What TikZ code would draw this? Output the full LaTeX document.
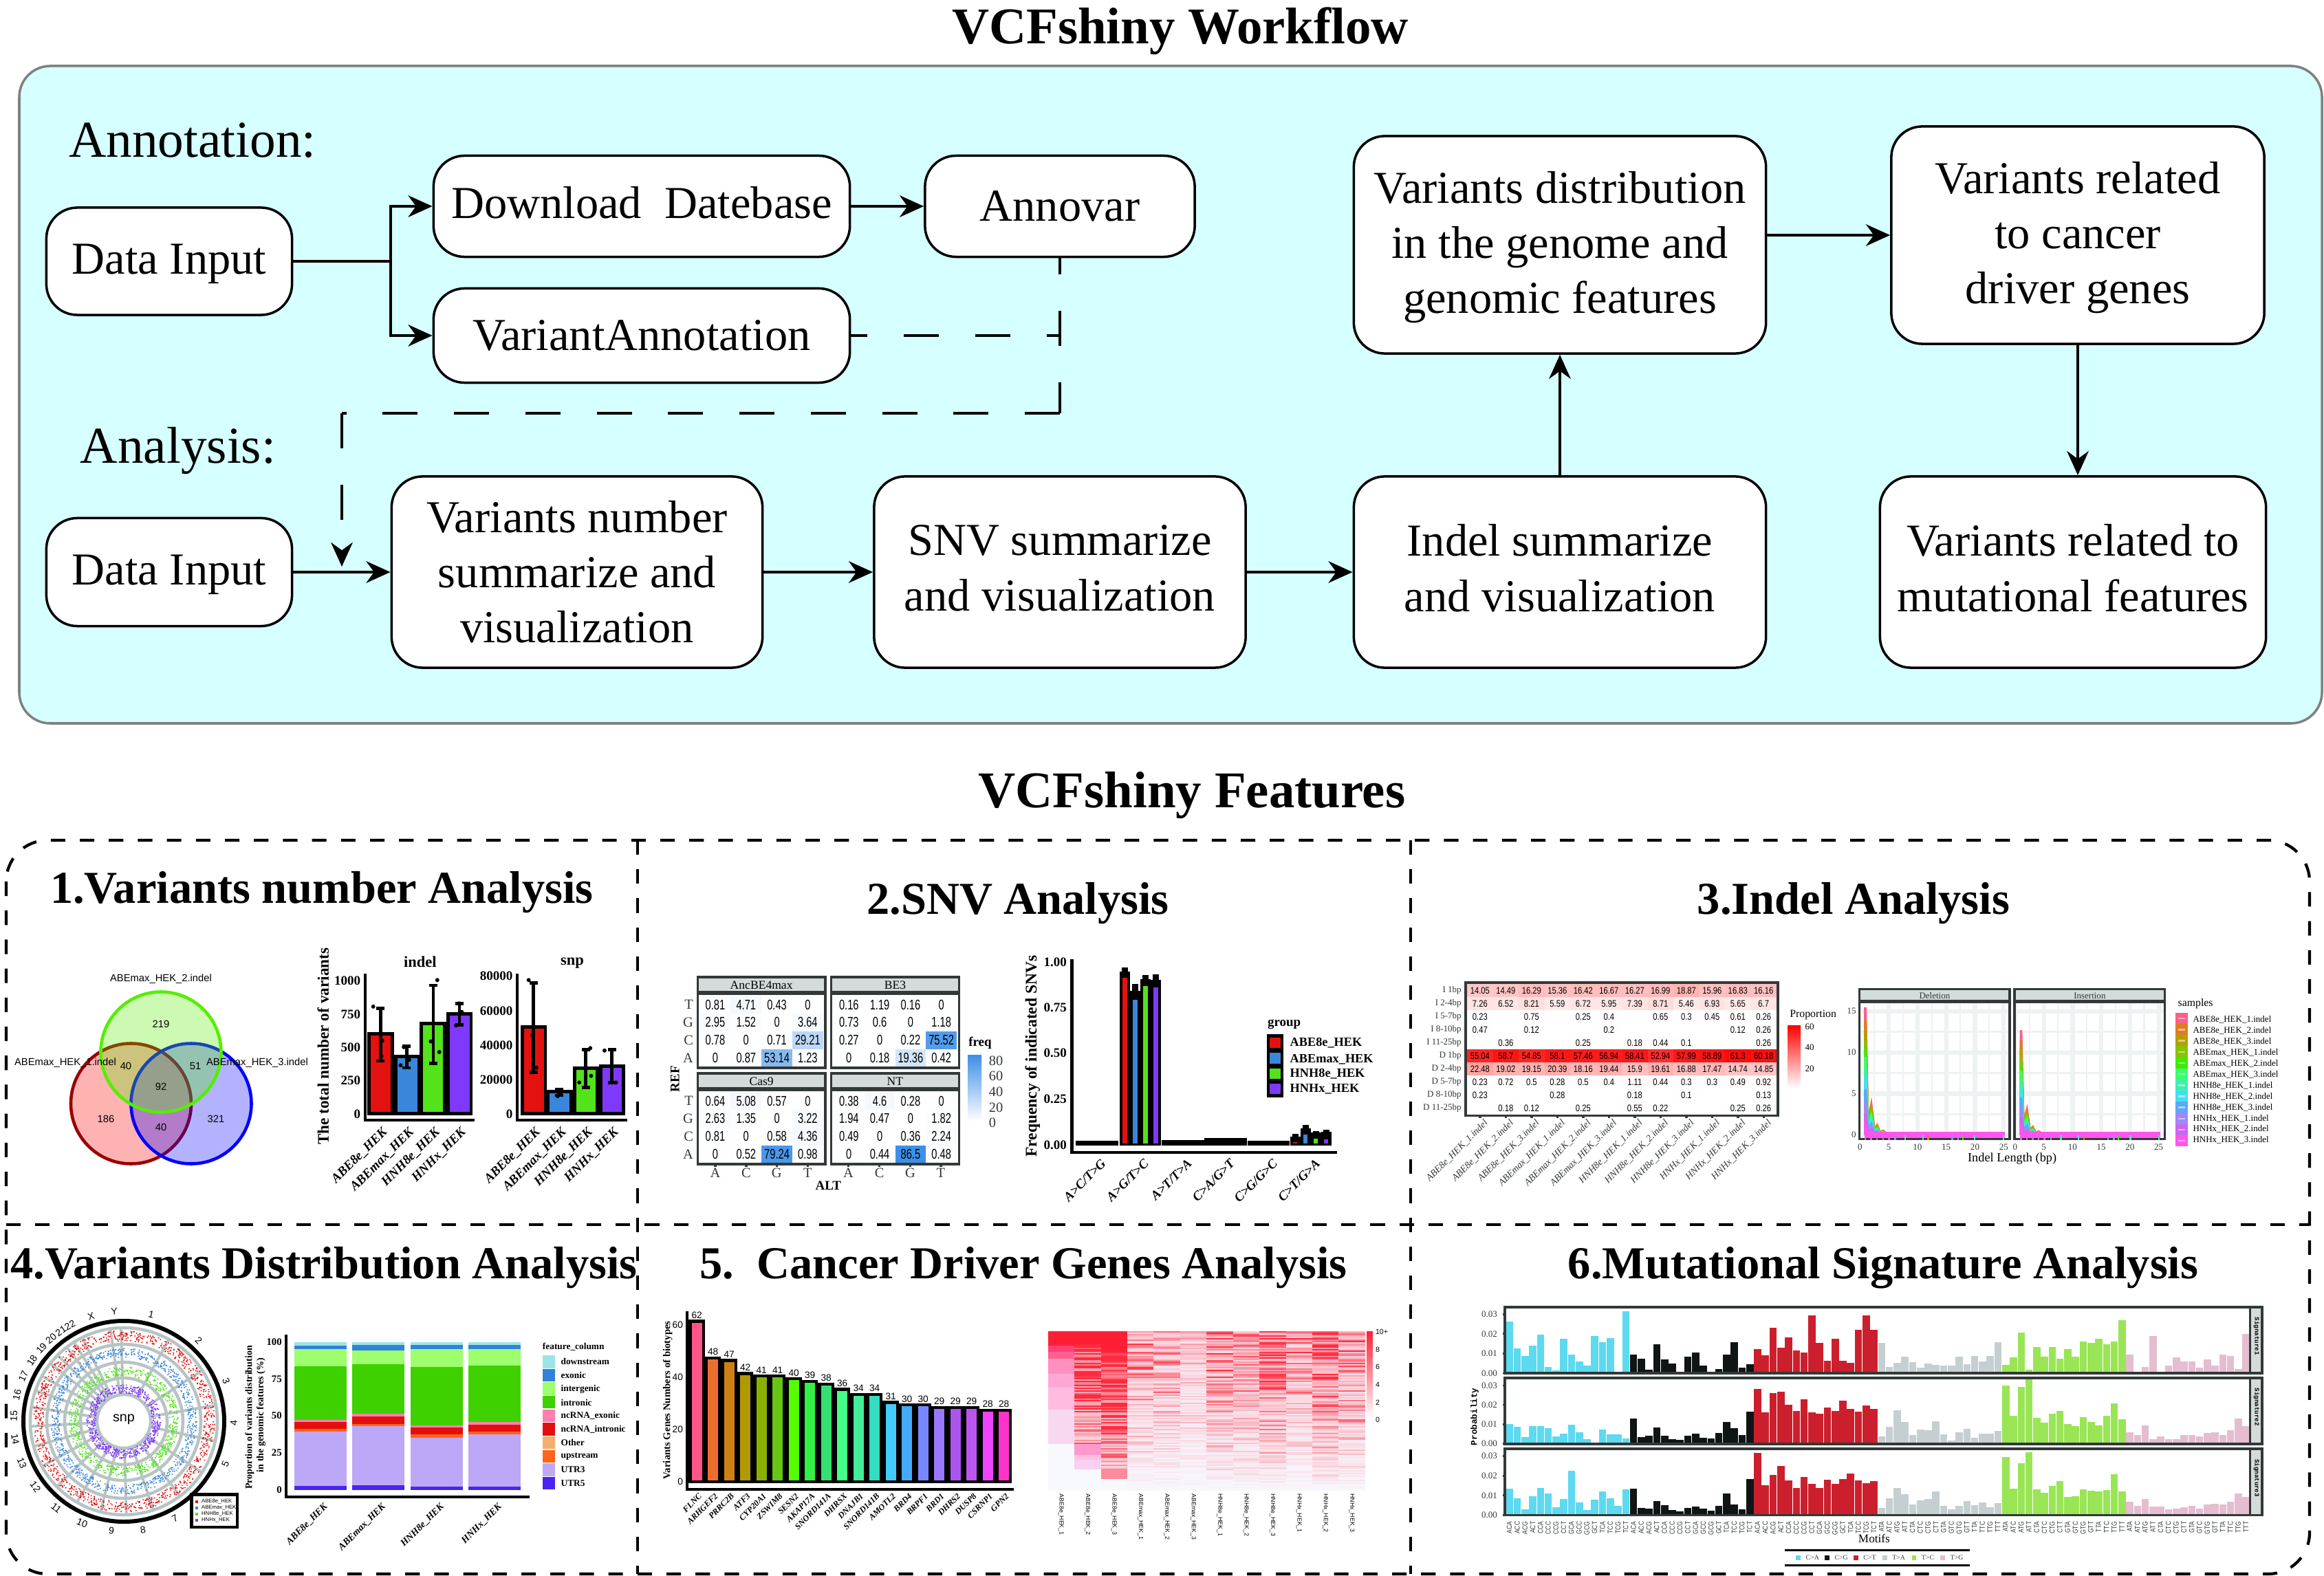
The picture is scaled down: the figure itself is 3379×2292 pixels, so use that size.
\documentclass[tikz,border=0pt]{standalone}
\usepackage{fontspec}
\setmainfont{Liberation Serif}
\newfontfamily\sansfam{Liberation Sans}
\newfontfamily\monofam{Liberation Mono}
\usetikzlibrary{arrows.meta,positioning,calc}
\newcommand{\fsz}[2]{\fontsize{#1}{#2}\selectfont}
\newcommand{\errbar}[3]{\draw[line width=1.3pt] (#1-10,#2) -- (#1+10,#2) (#1,#2) -- (#1,#3) (#1-10,#3) -- (#1+10,#3);}
\newcommand{\datadot}[2]{\fill (#1,#2) ellipse [x radius=5,y radius=8.4];}
\newcommand{\lowpad}{\rule[-3.4pt]{0pt}{0pt}}
\newcommand{\toppad}{\rule{0pt}{15pt}}
\definecolor{panelcyan}{HTML}{D6FFFF}
\definecolor{vennlime}{HTML}{55EE00}
\definecolor{barred}{HTML}{E3110F}
\definecolor{barblue}{HTML}{3A86DB}
\definecolor{bargreen}{HTML}{52E31A}
\definecolor{barpurple}{HTML}{7F39FB}
\definecolor{cellblue}{HTML}{3F8FE8}
\definecolor{stripgray}{HTML}{D3DCDA}
\definecolor{framedark}{HTML}{333838}
\definecolor{gridgray}{HTML}{EEF2F2}
\definecolor{ringgray}{HTML}{B8C4C4}
\definecolor{heatlow}{HTML}{F8F8FF}
\definecolor{heathigh}{HTML}{FF1F35}
\definecolor{stk1}{HTML}{9BE5E8}
\definecolor{stk2}{HTML}{3182D8}
\definecolor{stk3}{HTML}{9DFF6E}
\definecolor{stk4}{HTML}{3FD000}
\definecolor{stk5}{HTML}{FF80B0}
\definecolor{stk6}{HTML}{E30F0F}
\definecolor{stk7}{HTML}{FF6418}
\definecolor{stk8}{HTML}{BDA8F8}
\definecolor{stk9}{HTML}{4A25F0}
\definecolor{stkother}{HTML}{F8AE6C}
\definecolor{sig0}{HTML}{5DD9F0}
\definecolor{sig1}{HTML}{0F1414}
\definecolor{sig2}{HTML}{CC1F2E}
\definecolor{sig3}{HTML}{C5CFD2}
\definecolor{sig4}{HTML}{99E555}
\definecolor{sig5}{HTML}{E5BDD0}
\tikzset{
  flowbox/.style={draw,fill=white,rounded corners=.45cm,line width=1pt,align=center,inner sep=0pt,font=\fsz{18.9}{22.8}},
  dashflow/.style={line width=1pt,dash pattern=on 14.5pt off 15pt},
  sectitle/.style={anchor=base,inner sep=0pt,font=\bfseries\fsz{18.9}{20}},
  zoneA/.style={shift={(0,1220)},xscale=.5931,yscale=.3571},
  zoneB/.style={shift={(930,1220)},xscale=.7143,yscale=.3571},
  zoneC/.style={shift={(2040,1220)},xscale=.854,yscale=.3571},
  zoneD/.style={shift={(0,1770)},xscale=.5931,yscale=.3329},
  zoneE/.style={shift={(930,1770)},xscale=.7143,yscale=.3329},
  zoneF/.style={shift={(2040,1770)},xscale=.854,yscale=.3329},
  vennlab/.style={inner sep=0pt,font=\sansfam\fsz{4.2}{5}},
  boldlab/.style={inner sep=0pt,font=\bfseries\fsz{5.4}{6}},
  rotlab/.style={inner sep=0pt,rotate=45,anchor=east,font=\bfseries\itshape\fsz{5.4}{6}},
  cellnum/.style={inner sep=0pt,font=\sansfam\fsz{5.8}{6}},
  serifgray/.style={inner sep=0pt,text=framedark,font=\fsz{5.8}{6}},
  smallnum/.style={inner sep=0pt,font=\sansfam\fsz{3.9}{4}},
  smalllab/.style={inner sep=0pt,font=\fsz{3.7}{4}},
  smallbold/.style={inner sep=0pt,font=\bfseries\fsz{3.8}{4}},
  axisline/.style={line width=1.2pt}
}
\begin{document}
\begin{tikzpicture}[x=0.01cm,y=-0.01cm,>={Stealth[length=10pt,width=9pt]}]
\useasboundingbox (0,0) rectangle (3379,2292);
\node (workflowtitle) [anchor=base,inner sep=0pt,font=\bfseries\fsz{21.3}{22}] at (1716,64) {VCFshiny Workflow};
\filldraw[draw=gray,fill=panelcyan,rounded corners=.45cm,line width=1pt] (28,96) rectangle (3376,1052);
\node (annotlab) [inner sep=0pt,font=\fsz{21.4}{22}] at (280,204) {Annotation:};
\node (analysislab) [inner sep=0pt,font=\fsz{21.4}{22}] at (259,656) {Analysis:};
\node (input1) [flowbox,text depth=1.6pt,minimum width=3.57cm,minimum height=1.56cm] at (246,380) {Data Input};
\node (download) [flowbox,text depth=3.4pt,minimum width=6.05cm,minimum height=1.47cm] at (933,300) {Download\ \ Datebase};
\node (varannot) [flowbox,minimum width=6.05cm,minimum height=1.37cm] at (933,488) {VariantAnnotation};
\node (annovar) [flowbox,minimum width=3.92cm,minimum height=1.47cm] at (1541,300) {Annovar};
\node (input2) [flowbox,text depth=1.6pt,minimum width=3.57cm,minimum height=1.57cm] at (246,832) {Data Input};
\node (varnumber) [flowbox,minimum width=5.39cm,minimum height=2.78cm] at (839,832) {Variants number\\summarize and\\visualization};
\node (snv) [flowbox,minimum width=5.4cm,minimum height=2.78cm] at (1541,832) {SNV summarize\\and visualization\lowpad};
\node (indel) [flowbox,minimum width=5.99cm,minimum height=2.78cm] at (2268,832) {Indel summarize\\and visualization\lowpad};
\node (distrib) [flowbox,minimum width=5.99cm,minimum height=3.16cm] at (2268,356) {\toppad Variants distribution\\in the genome and\\genomic features};
\node (cancer) [flowbox,minimum width=5.42cm,minimum height=3.16cm] at (3021,342) {\toppad Variants related\\to cancer\\driver genes};
\node (mutational) [flowbox,minimum width=5.61cm,minimum height=2.78cm] at (3014,832) {Variants related to\\mutational features\lowpad};
\coordinate (branch) at (568,380);
\coordinate (dashturn) at (1541,601);
\coordinate (dashleft) at (497,601);
\coordinate (dashend) at (497,824);
\coordinate (dashjoin) at (annovar.south |- varannot.east);
\draw[line width=1pt] (input1) -- (branch);
\draw[->,line width=1pt] (branch) |- (download);
\draw[->,line width=1pt] (branch) |- (varannot);
\draw[->,line width=1pt] (download) -- (annovar);
\draw[dashflow,dash phase=7.7pt] (annovar.south) -- (dashturn);
\draw[dashflow] (dashturn) -- (dashleft);
\draw[dashflow,dash phase=7.7pt] (varannot.east) -- (dashjoin);
\draw[dashflow,->] (dashleft) -- (dashend);
\draw[->,line width=1pt] (input2) -- (varnumber);
\draw[->,line width=1pt] (varnumber) -- (snv);
\draw[->,line width=1pt] (snv) -- (indel);
\draw[->,line width=1pt] (indel) -- (distrib);
\draw[->,line width=1pt] (distrib.east |- cancer) -- (cancer);
\draw[->,line width=1pt] (cancer.south) -- (cancer.south |- mutational.north);
\node (featurestitle) [anchor=base,inner sep=0pt,font=\bfseries\fsz{21.3}{22}] at (1733,1174) {VCFshiny Features};
\draw[line width=1.2pt,dash pattern=on 6pt off 6pt,rounded corners=.6cm] (9,1222) rectangle (3358,2289);
\draw[line width=1.2pt,dash pattern=on 6pt off 6pt] (9,1781) -- (3358,1781);
\draw[line width=1.2pt,dash pattern=on 6pt off 6pt] (927,1222) -- (927,2289);
\draw[line width=1.2pt,dash pattern=on 6pt off 6pt] (2051,1222) -- (2051,2289);
\node (title1) [sectitle] at (468,1313) {1.Variants number Analysis};
\node (title2) [sectitle] at (1480,1329) {2.SNV Analysis};
\node (title3) [sectitle] at (2695,1329) {3.Indel Analysis};
\node (title4) [sectitle] at (471,1859) {4.Variants Distribution Analysis};
\node (title5) [sectitle] at (1488,1859) {5.\ \ Cancer Driver Genes Analysis};
\node (title6) [sectitle] at (2738,1859) {6.Mutational Signature Analysis};
\filldraw[draw=red!60!black,fill=red,fill opacity=.3,line width=1.3pt] (190.5,1605) circle (87.5);
\filldraw[draw=blue,fill=blue,fill opacity=.3,line width=1.3pt] (278,1605) circle (87.5);
\filldraw[draw=vennlime,fill=vennlime,fill opacity=.3,line width=1.3pt] (234,1530) circle (87.5);
\node (vennlab2) [vennlab] at (234,1424) {ABEmax\_HEK\_2.indel};
\node (vennlab1) [vennlab] at (95,1546) {ABEmax\_HEK\_1.indel};
\node (vennlab3) [vennlab] at (374,1546) {ABEmax\_HEK\_3.indel};
\foreach \n/\nx/\ny [count=\ni] in {219/234/1489,40/183/1550,51/284/1550,92/234/1580,186/154/1627,40/234/1639,321/314/1627}{
  \node (vennnum\ni) [vennlab] at (\nx,\ny) {\n};
}
\begin{scope}[zoneA]
\foreach \xa/\xb/\ytop/\colr in {905/962/795/barred,970/1027/887/barblue,1033/1090/753/bargreen,1098/1155/712/barpurple,1280/1337/765/barred,1343/1400/1030/barblue,1408/1464/933/bargreen,1472/1528/925/barpurple}{
  \draw[line width=1.4pt,fill=\colr] (\xa,1118) rectangle (\xb,\ytop);
}
\errbar{933}{690}{905}
\errbar{997}{845}{932}
\errbar{1062}{597}{915}
\errbar{1126}{670}{757}
\errbar{1308}{587}{950}
\errbar{1371}{1020}{1045}
\errbar{1436}{858}{1013}
\errbar{1500}{858}{993}
\foreach \dx/\dy in {915/683,937/822,935/885,990/848,1003/900,982/922,1072/575,1056/825,1077/868,1125/670,1132/705,1118/760,1296/575,1305/800,1315/932,1371/1035,1367/1048,1375/1040,1447/852,1449/965,1420/992,1482/862,1510/992,1500/992}{
  \datadot{\dx}{\dy}
}
\draw[axisline] (895,550) -- (895,1145) -- (1163,1145);
\draw[axisline] (1268,550) -- (1268,1145) -- (1537,1145);
\foreach \t/\ty [count=\ti] in {0/1120,250/985,500/850,750/714,1000/578}{
  \node (tickindel\ti) [boldlab,anchor=east] at (885,\ty) {\t};
}
\foreach \t/\ty [count=\ti] in {0/1120,20000/980,40000/840,60000/700,80000/558}{
  \node (ticksnp\ti) [boldlab,anchor=east] at (1258,\ty) {\t};
}
\foreach \gname/\gx [count=\gi] in {ABE8e\_HEK/945,ABEmax\_HEK/1010,HNH8e\_HEK/1074,HNHx\_HEK/1138,ABE8e\_HEK/1320,ABEmax\_HEK/1384,HNH8e\_HEK/1448,HNHx\_HEK/1512}{
  \node (varname\gi) [rotlab] at (\gx,1185) {\gname};
}
\node (indelhead) [boldlab,font=\bfseries\fsz{6.4}{7}] at (1030,500) {indel};
\node (snphead) [boldlab,font=\bfseries\fsz{6.4}{7}] at (1403,505) {snp};
\node (totallab) [boldlab,rotate=90,font=\bfseries\fsz{6.6}{7}] at (792,845) {The total number of variants};
\end{scope}
\begin{scope}[zoneB]
\foreach \fname/\xf/\yf/\fvals [count=\fidx] in {AncBE4max/118/563/{0.81,4.71,0.43,0,2.95,1.52,0,3.64,0.78,0,0.71,29.21,0,0.87,53.14,1.23},BE3/390/563/{0.16,1.19,0.16,0,0.73,0.6,0,1.18,0.27,0,0.22,75.52,0,0.18,19.36,0.42},Cas9/118/955/{0.64,5.08,0.57,0,2.63,1.35,0,3.22,0.81,0,0.58,4.36,0,0.52,79.24,0.98},NT/390/955/{0.38,4.6,0.28,0,1.94,0.47,0,1.82,0.49,0,0.36,2.24,0,0.44,86.5,0.48}}{
  \foreach \v [count=\ci] in \fvals{
    \pgfmathsetmacro\cx{\xf+36+62.7*mod(\ci-1,4)}
    \pgfmathsetmacro\cy{\yf+112+72.4*int((\ci-1)/4)}
    \pgfmathsetmacro\pct{min(100,\v*100/85)}
    \fill[cellblue!\pct!white] (\cx-31.3,\cy-36.2) rectangle (\cx+31.3,\cy+36.2);
    \node (cell\fidx x\ci) [cellnum] at (\cx,\cy) {\scalebox{.72}[1]{\v}};
  }
  \draw[line width=1pt,draw=framedark,fill=stripgray] (\xf,\yf) rectangle (\xf+260,\yf+62);
  \fill[framedark] (\xf,\yf+62) rectangle (\xf+260,\yf+72);
  \draw[line width=1pt,draw=framedark] (\xf,\yf+62) rectangle (\xf+260,\yf+370);
  \node (facet\fidx) [serifgray,text=black,font=\fsz{5}{6}] at (\xf+130,\yf+34) {\fname};
}
\foreach \rlab/\ry [count=\ri] in {T/675,G/747,C/820,A/892,T/1067,G/1139,C/1212,A/1284}{
  \node (reflab\ri) [serifgray,anchor=east] at (110,\ry) {\rlab};
}
\foreach \clab/\cx [count=\ci] in {A/154,C/217,G/279,T/342,A/425,C/488,G/551,T/613}{
  \draw[line width=1pt,draw=framedark] (\cx,1325) -- (\cx,1335);
  \node (altlab\ci) [serifgray] at (\cx,1360) {\clab};
}
\node (reflabel) [boldlab,rotate=90] at (72,978) {REF};
\node (altlabel) [boldlab] at (384,1413) {ALT};
\node (freqlabel) [boldlab] at (693,830) {freq};
\shade[top color=cellblue,bottom color=white] (668,882) rectangle (696,1150);
\foreach \t/\ty [count=\ti] in {80/903,60/965,40/1030,20/1095,0/1155}{
  \node (freqtick\ti) [serifgray,anchor=west] at (710,\ty) {\t};
}
\foreach \gc/\bt [count=\gi] in {931/1228,1106/1226,1193/1218,1280/1228}{
  \fill (\gc-43,\bt) rectangle (\gc+43,1250);
}
\foreach \xa/\colr/\ytop/\yin/\yerr in {977/barred/540/565/525,998/barblue/618/655/590,1019/bargreen/572/600/555,1040/barpurple/575/605/552,1324/barred/1212/1236/1200,1345/barblue/1180/1205/1165,1366/bargreen/1197/1220/1190,1387/barpurple/1192/1225/1185}{
  \fill (\xa,\ytop) rectangle (\xa+21,1250);
  \fill (\xa+4,\yerr) rectangle (\xa+17,\ytop);
  \fill[\colr] (\xa+6,\yin) rectangle (\xa+15,1240);
}
\draw[axisline] (880,490) -- (880,1278) -- (1420,1278);
\foreach \t/\ty [count=\ti] in {1.00/502,0.75/688,0.50/873,0.25/1060,0.00/1247}{
  \node (freqaxis\ti) [boldlab,anchor=east] at (870,\ty) {\t};
}
\foreach \mutname/\gx [count=\gi] in {{A>C/T>G}/945,{A>G/T>C}/1032,{A>T/T>A}/1120,{C>A/G>T}/1207,{C>G/G>C}/1294,{C>T/G>A}/1381}{
  \node (mutname\gi) [rotlab] at (\gx,1312) {\mutname};
}
\node (snvfreq) [boldlab,rotate=90,font=\bfseries\fsz{6.7}{7}] at (800,885) {Frequency of indicated SNVs};
\node (grouplab) [boldlab] at (1312,755) {group};
\fill (1277,795) rectangle (1311,1053);
\foreach \gname/\colr/\ya/\yb/\yt [count=\gi] in {ABE8e\_HEK/barred/810/850/832,ABEmax\_HEK/barblue/872/915/897,HNH8e\_HEK/bargreen/934/977/958,HNHx\_HEK/barpurple/997/1040/1020}{
  \fill[\colr] (1283,\ya) rectangle (1305,\yb);
  \node (grouplab\gi) [boldlab,anchor=west,font=\bfseries\fsz{5.2}{6}] at (1323,\yt) {\gname};
}
\end{scope}
\begin{scope}[zoneC]
\foreach \rlab/\rvals [count=\ri from 0] in {I 1bp/{14.05,14.49,16.29,15.36,16.42,16.67,16.27,16.99,18.87,15.96,16.83,16.16},I 2-4bp/{7.26,6.52,8.21,5.59,6.72,5.95,7.39,8.71,5.46,6.93,5.65,6.7},I 5-7bp/{0.23,0,0.75,0,0.25,0.4,0,0.65,0.3,0.45,0.61,0.26},I 8-10bp/{0.47,0,0.12,0,0,0.2,0,0,0,0,0.12,0.26},I 11-25bp/{0,0.36,0,0,0.25,0,0.18,0.44,0.1,0,0,0.26},D 1bp/{55.04,58.7,54.85,58.1,57.46,56.94,58.41,52.94,57.99,58.89,61.3,60.18},D 2-4bp/{22.48,19.02,19.15,20.39,18.16,19.44,15.9,19.61,16.88,17.47,14.74,14.85},D 5-7bp/{0.23,0.72,0.5,0.28,0.5,0.4,1.11,0.44,0.3,0.3,0.49,0.92},D 8-10bp/{0.23,0,0,0.28,0,0,0.18,0,0.1,0,0,0.13},D 11-25bp/{0,0.18,0.12,0,0.25,0,0.55,0.22,0,0,0.25,0.26}}{
  \pgfmathsetmacro\yc{618+53.2*\ri}
  \node (rowlab\ri) [smalllab,anchor=east,text=framedark] at (100,\yc) {\rlab};
  \foreach \v [count=\ci from 0] in \rvals{
    \pgfmathsetmacro\xc{131+43.9*\ci}
    \pgfmathsetmacro\pct{min(100,\v*100/64)}
    \fill[red!\pct!white] (\xc-22,\yc-26.7) rectangle (\xc+22,\yc+26.7);
    \ifdim\v pt>0pt
      \node (indelcell\ri x\ci) [smallnum] at (\xc,\yc) {\scalebox{.82}[1]{\v}};
    \fi
  }
}
\draw[line width=1.1pt,draw=framedark] (107,586) rectangle (638,1127);
\foreach \sname [count=\si from 0] in {ABE8e\_HEK\_1.indel,ABE8e\_HEK\_2.indel,ABE8e\_HEK\_3.indel,ABEmax\_HEK\_1.indel,ABEmax\_HEK\_2.indel,ABEmax\_HEK\_3.indel,HNH8e\_HEK\_1.indel,HNH8e\_HEK\_2.indel,HNH8e\_HEK\_3.indel,HNHx\_HEK\_1.indel,HNHx\_HEK\_2.indel,HNHx\_HEK\_3.indel}{
  \draw[line width=1pt,draw=framedark] (131+43.9*\si,1127) -- (131+43.9*\si,1137);
  \node (indelcol\si) [rotlab,text=framedark,font=\itshape\fsz{4}{5}] at (142+43.9*\si,1150) {\sname};
}
\node (proplab) [smalllab,font=\fsz{4.5}{5}] at (698,717) {Proportion};
\shade[top color=red,bottom color=white] (655,760) rectangle (677,1015);
\foreach \t/\ty [count=\ti] in {60/765,40/850,20/935}{
  \node (proptick\ti) [smalllab] at (692,\ty) {\t};
}
\foreach \xo/\pname in {777/Deletion,1041/Insertion}{
  \foreach \g in {1,...,11}{
    \draw[gridgray,line width=.6pt] (\xo+1+24.4*\g-24.4,668) -- (\xo+1+24.4*\g-24.4,1222);
  }
  \foreach \g in {0,...,5}{
    \draw[gridgray,line width=1.8pt] (\xo+1+48.9*\g,668) -- (\xo+1+48.9*\g,1222);
    \pgfmathtruncatemacro\bplab{5*\g}
    \node (ltick\xo x\g) [smalllab,text=framedark] at (\xo+1+48.9*\g,1255) {\bplab};
  }
  \foreach \g in {0,1,2,3}{
    \draw[gridgray,line width=1.8pt] (\xo,1205-167.5*\g) -- (\xo+256,1205-167.5*\g);
  }
  \foreach \g in {0,1,2}{
    \draw[gridgray,line width=.8pt] (\xo,1121-167.5*\g) -- (\xo+256,1121-167.5*\g);
  }
  \draw[line width=1pt,draw=framedark,fill=stripgray] (\xo,612) rectangle (\xo+256,660);
  \fill[framedark] (\xo,660) rectangle (\xo+256,668);
  \node (strip\xo) [smalllab,text=framedark] at (\xo+128,638) {\pname};
  \draw[line width=1pt,draw=framedark] (\xo,660) rectangle (\xo+256,1222);
}
\foreach \xo/\scl in {787/1,1052/.82}{
  \foreach \hx/\pk in {FF5F8A/15.5,DE7E22/14,B5A000/12.8,88C300/11.5,40EC00/10.5,3BFF6B/9.5,3EF0B0/8,44E0F0/7,5AA8F8/5.5,A088F8/4,CC66F0/2.5,FF55EE/1}{
    \definecolor{samplecol}{HTML}{\hx}
    \draw[samplecol,line width=1.1pt] (\xo,1205) -- (\xo,1205-33.5*\pk*\scl) -- (\xo+4,1205-3*\pk*\scl) -- (\xo+10,1205-7.7*\pk*\scl) -- (\xo+15,1205-1.2*\pk*\scl) -- (\xo+20,1205-2.4*\pk*\scl) -- (\xo+25,1205-.5*\pk*\scl) -- (\xo+30,1205-1*\pk*\scl) -- (\xo+39,1205) -- (\xo+237,1205);
  }
  \draw[line width=2.4pt,draw={rgb,255:red,255;green,85;blue,238}] (\xo,1205) -- (\xo+237,1205);
  \foreach \rx/\hx in {0/FF55EE,10/FF55EE,20/CC66F0,30/FF55EE,40/FF55EE,51/A088F8,68/3EF0B0,98/44E0F0,107/DE7E22,148/A088F8,158/A088F8,166/40EC00,186/3EF0B0,235/3EF0B0}{
    \definecolor{samplecol}{HTML}{\hx}
    \draw[samplecol,line width=.7pt] (\xo+\rx,1208) -- (\xo+\rx,1226);
  }
}
\foreach \t/\ty [count=\ti] in {15/702,10/870,5/1038,0/1205}{
  \node (ltickY\ti) [smalllab,text=framedark,anchor=east] at (772,\ty) {\t};
}
\node (lengthlab) [smalllab,font=\fsz{5.2}{6}] at (1037,1302) {Indel Length (bp)};
\node (samplehead) [smalllab,font=\fsz{4.5}{5}] at (1349,670) {samples};
\foreach \sname/\hx/\ty [count=\si from 0] in {ABE8e\_HEK\_1.indel/FF5F8A/736,ABE8e\_HEK\_2.indel/DE7E22/781,ABE8e\_HEK\_3.indel/B5A000/825,ABEmax\_HEK\_1.indel/88C300/870,ABEmax\_HEK\_2.indel/40EC00/915,ABEmax\_HEK\_3.indel/3BFF6B/960,HNH8e\_HEK\_1.indel/3EF0B0/1005,HNH8e\_HEK\_2.indel/44E0F0/1049,HNH8e\_HEK\_3.indel/5AA8F8/1094,HNHx\_HEK\_1.indel/A088F8/1139,HNHx\_HEK\_2.indel/CC66F0/1181,HNHx\_HEK\_3.indel/FF55EE/1226}{
  \definecolor{samplecol}{HTML}{\hx}
  \fill[samplecol] (1315,708+45.3*\si) rectangle (1336,754+45.3*\si);
  \fill[white,opacity=.5] (1320,728+45.3*\si) rectangle (1331,735+45.3*\si);
  \node (samplelab\si) [smalllab,anchor=west] at (1344,\ty) {\sname};
}
\end{scope}
\begin{scope}[shift={(180,2067)}]
\foreach \r in {39,63,86,112,136}{
  \draw[ringgray,line width=1.3pt] (0,0) circle (\r);
}
\draw[line width=1.7pt] (0,0) circle (146);
\foreach \chrlab/\thb [count=\ci,remember=\thb as \tha (initially 0)] in {1/28.8,2/57,3/80,4/102.1,5/123.2,6/143.1,7/161.6,8/178.4,9/194.5,10/210,11/225.7,12/241.2,13/254.4,14/266.9,15/278.8,16/289.2,17/298.9,18/308.2,19/315,20/322.4,21/327.8,22/333.6,X/351.7,Y/358.3}{
  \pgfmathsetmacro\edgeang{\thb-90}
  \draw[ringgray,line width=1.1pt] (\edgeang:39) -- (\edgeang:136);
  \pgfmathsetmacro\midth{(\tha+\thb)/2}
  \pgfmathsetmacro\midang{\midth-90}
  \pgfmathsetmacro\rot{and(\midth>90,\midth<270) ? 180-\midth : -\midth}
  \node (chr\ci) [inner sep=0pt,rotate=\rot,font=\sansfam\fsz{4}{5}] at (\midang:160) {\chrlab};
}
\pgfmathsetseed{11}
\foreach \colr/\rin/\rw/\nd in {barred/117/15/1000,barblue/93/13/850,bargreen/66/14/700,barpurple/41/13/650}{
  \foreach \d in {1,...,\nd}{
    \pgfmathsetmacro\ang{360*rnd}
    \pgfmathsetmacro\rad{\rin+\rw*rnd}
    \fill[\colr] (\ang:\rad) circle (1.1);
  }
}
\node (snplab) [inner sep=0pt,font=\sansfam\fsz{5.6}{6}] at (0,-3) {snp};
\end{scope}
\begin{scope}[zoneD]
\draw[line width=1.3pt,fill=white] (470,1212) rectangle (582,1355);
\foreach \gname/\colr/\ty [count=\gi] in {ABE8e\_HEK/barred/1243,ABEmax\_HEK/barblue/1270,HNH8e\_HEK/bargreen/1297,HNHx\_HEK/barpurple/1324}{
  \fill[\colr] (479,\ty-6) rectangle (486,\ty+6);
  \node (chrkey\gi) [inner sep=0pt,anchor=west,font=\sansfam\fsz{2.2}{3}] at (493,\ty) {\gname};
}
\foreach \xa/\ys in {722/{562,578,652,885,894,925,936,1175,1192},864/{560,582,642,858,871,905,912,1171,1192},1006/{560,576,656,910,920,949,964,1177,1192},1148/{560,576,648,895,908,937,948,1176,1192}}{
  \foreach \yb [count=\si,remember=\yb as \yprev (initially 547)] in \ys{
    \fill[stk\si] (\xa,\yprev) rectangle (\xa+128,\yb);
  }
}
\draw[axisline] (702,515) -- (702,1222) -- (1298,1222);
\foreach \t/\ty [count=\ti] in {100/547,75/708,50/868,25/1030,0/1190}{
  \node (proptickY\ti) [smallbold,anchor=east,font=\bfseries\fsz{4.2}{5}] at (692,\ty) {\t};
}
\foreach \gname/\gx [count=\gi] in {ABE8e\_HEK/800,ABEmax\_HEK/942,HNH8e\_HEK/1085,HNHx\_HEK/1227}{
  \node (stkname\gi) [rotlab,font=\bfseries\itshape\fsz{4}{5}] at (\gx,1258) {\gname};
}
\node (propylab1) [smallbold,rotate=90,font=\bfseries\fsz{4}{5}] at (612,875) {Proportion of variants distribution};
\node (propylab2) [smallbold,rotate=90,font=\bfseries\fsz{4}{5}] at (640,865) {in the genomic features (\%)};
\node (featurehead) [smallbold,anchor=west] at (1329,566) {feature\_column};
\foreach \fname/\colr/\ya/\yt [count=\fidx] in {downstream/stk1/605/632,exonic/stk2/663/692,intergenic/stk3/722/752,intronic/stk4/781/810,ncRNA\_exonic/stk5/840/868,ncRNA\_intronic/stk6/899/928,Other/stkother/958/986,upstream/stk7/1017/1046,UTR3/stk8/1076/1102,UTR5/stk9/1134/1162}{
  \fill[\colr] (1331,\ya) rectangle (1361,\ya+55);
  \node (featurelab\fidx) [smallbold,anchor=west] at (1374,\yt) {\fname};
}
\end{scope}
\begin{scope}[zoneE]
\foreach \gene/\val/\hx [count=\gi from 0] in {FLNC/62/FF5588,ARHGEF2/48/EC6E2E,PRRC2B/47/CF8014,ATF3/42/B09A00,CYP20A1/41/8CB000,ZSWIM8/41/66C515,SESN2/40/55FF00,AKAP17A/39/33F044,SNORD141A/38/35E070,DHRSX/36/44FF88,DNAJB1/34/44EE99,SNORD141B/34/33DDC0,AMOTL2/31/44CCFF,BRD4/30/44AAF8,BRPF1/30/7788FF,BRD1/29/9977FF,DHRS2/29/AA55EE,DUSP8/29/BB55F0,CSRNP1/28/EE44FF,GPN2/28/FF33CC}{
  \definecolor{genecol}{HTML}{\hx}
  \pgfmathsetmacro\xg{100+32.9*\gi}
  \pgfmathsetmacro\ytop{1157-11.43*\val}
  \fill (\xg,\ytop) rectangle (\xg+32.9,1163);
  \fill[genecol] (\xg+6,\ytop+13) rectangle (\xg+27,1150);
  \node (genenum\gi) [smallnum,anchor=south] at (\xg+16.5,\ytop-3) {\val};
  \node (genename\gi) [rotlab,font=\bfseries\itshape\fsz{3.5}{4}] at (\xg+24,1212) {\gene};
}
\draw[axisline] (97,412) -- (97,1190) -- (762,1190);
\foreach \t/\ty [count=\ti] in {60/470,40/698,20/926,0/1157}{
  \node (genetick\ti) [smallnum,anchor=east] at (89,\ty) {\t};
}
\node (geneylab) [smallbold,rotate=90,font=\bfseries\fsz{4.2}{5}] at (57,800) {Variants Genes Numbers of biotypes};
\fill[heathigh] (831,499) rectangle (885,562);
\foreach \ya/\yb/\hx in {562/590/FF4070,590/620/FF5F90,620/685/FF90C0,685/745/FFA8D8,745/840/FFBBE0,840/992/F8D8F0,992/1197/F8F8FF}{
  \definecolor{heatstep}{HTML}{\hx}
  \fill[heatstep] (831,\ya) rectangle (885,\yb);
}
\pgfmathsetseed{23}
\foreach \cb [count=\ci from 1] in {2,2.6,.62,.55,.36,.8,.8,1.05,.62,1.15,.75}{
  \pgfmathsetmacro\xc{885+53.8*(\ci-1)}
  \foreach \rw in {0,...,115}{
    \pgfmathsetmacro\pct{min(95,max(0,95*\cb*(1-\rw/116)*(.25+2*rnd*rnd)))}
    \fill[heathigh!\pct!heatlow] (\xc,499+6*\rw) rectangle (\xc+53.8,506+6*\rw);
  }
}
\fill[heathigh] (885,499) rectangle (939,555);
\fill[heathigh] (939,499) rectangle (992,590);
\foreach \ya/\yb/\hx in {992/1040/FF99CC,1040/1060/FFBEE0,1060/1103/F8D0F0,1103/1197/F8F8FF}{
  \definecolor{heatstep}{HTML}{\hx}
  \fill[heatstep] (885,\ya) rectangle (939,\yb);
}
\fill[heathigh!50!heatlow] (939,1100) rectangle (992,1145);
\fill[heatlow] (939,1145) rectangle (992,1197);
\shade[top color=heathigh,bottom color=white] (1480,499) rectangle (1492,880);
\foreach \t/\ty [count=\ti] in {10+/500,8/578,6/655,4/733,2/810,0/887}{
  \node (heattick\ti) [smallnum,anchor=west,font=\sansfam\fsz{3}{4}] at (1497,\ty) {\t};
}
\foreach \sname [count=\si from 0] in {ABE8e\_HEK\_1,ABE8e\_HEK\_2,ABE8e\_HEK\_3,ABEmax\_HEK\_1,ABEmax\_HEK\_2,ABEmax\_HEK\_3,HNH8e\_HEK\_1,HNH8e\_HEK\_2,HNH8e\_HEK\_3,HNHx\_HEK\_1,HNHx\_HEK\_2,HNHx\_HEK\_3}{
  \node (heatcol\si) [inner sep=0pt,rotate=-90,anchor=west,font=\sansfam\fsz{2.5}{3}] at (858+53.8*\si,1207) {\sname};
}
\end{scope}
\begin{scope}[zoneF]
\foreach \base/\yvals in {678/{456,574,606,562,514,655,670,531,600,632,648,519,548,530,678,411,600,619,668,555,622,640,675,609,592,650,678,663,600,548,659,642,576,603,483,571,527,583,591,430,551,627,531,628,637,494,430,493,549,654,637,610,635,657,640,645,650,649,610,643,607,630,606,546,645,612,505,666,568,609,568,620,576,611,545,550,531,556,543,451,601,676,654,519,677,648,612,632,632,658,621,650,602,606,663,510},987/{904,917,962,912,912,921,957,945,907,939,971,984,928,950,948,966,880,960,955,918,954,969,974,954,946,964,968,942,895,923,951,851,751,853,770,763,819,848,797,854,858,832,847,803,838,850,824,837,957,915,844,894,953,927,931,892,950,975,941,926,964,946,946,934,736,868,741,708,877,897,858,847,904,912,875,894,911,868,814,883,940,951,909,969,957,969,969,951,951,957,942,939,952,931,879,912},1297/{1185,1230,1278,1221,1182,1208,1267,1233,1108,1248,1281,1235,1199,1228,1262,1188,1186,1270,1273,1240,1258,1281,1287,1270,1265,1275,1283,1261,1209,1255,1277,1143,1030,1172,1125,1088,1150,1183,1135,1166,1184,1147,1165,1145,1120,1150,1161,1152,1272,1230,1183,1210,1257,1237,1233,1200,1263,1278,1263,1240,1260,1248,1267,1251,1049,1185,1075,1026,1188,1206,1175,1152,1224,1220,1188,1197,1200,1194,1122,1200,1245,1263,1232,1266,1266,1278,1275,1268,1263,1274,1256,1254,1256,1245,1208,1222}}{
  \foreach \t [count=\bi from 0] in \yvals{
    \pgfmathsetmacro\sigidx{int(\bi/16)}
    \fill[sig\sigidx] (175+13.2*\bi,\t) rectangle (187.4+13.2*\bi,\base);
  }
}
\foreach \ya/\yb/\sname/\ty [count=\pidx] in {393/682/Signature1/520,703/990/Signature2/830,1013/1302/Signature3/1140}{
  \fill[stripgray] (1442,\ya) rectangle (1462,\yb);
  \draw[line width=1.1pt,draw=framedark] (173,\ya) rectangle (1462,\yb);
  \draw[line width=1.1pt,draw=framedark] (1442,\ya) -- (1442,\yb);
  \node (signame\pidx) [inner sep=0pt,rotate=-90,font=\monofam\bfseries\fsz{2.6}{3}] at (1453,\ty) {\sname};
}
\foreach \t/\ty [count=\ti] in {0.03/424,0.02/510,0.01/597,0.00/682,0.03/736,0.02/820,0.01/906,0.00/990,0.03/1044,0.02/1130,0.01/1216,0.00/1302}{
  \node (sigtick\ti) [smalllab,text=framedark] at (147,\ty) {\t};
  \draw[line width=.8pt,draw=framedark] (170,\ty) -- (173,\ty);
}
\node (problab) [inner sep=0pt,rotate=90,font=\monofam\bfseries\fsz{3.6}{4}] at (122,872) {Probability};
\foreach \cen/\gi in {C/0,C/1,C/2,T/3,T/4,T/5}{
  \foreach \fa [count=\ai from 0] in {A,C,G,T}{
    \foreach \fb [count=\bi from 0] in {A,C,G,T}{
      \node (motif\gi\fa\fb) [inner sep=0pt,rotate=90,anchor=east,text=framedark,font=\sansfam\fsz{3}{3}] at (181+13.2*16*\gi+13.2*4*\ai+13.2*\bi,1328) {\scalebox{.8}[1]{\fa\cen\fb}};
    }
  }
}
\node (motiflab) [inner sep=0pt,font=\fsz{4.9}{5}] at (802,1403) {Motifs};
\draw[line width=.9pt] (650,1455) -- (965,1455) (650,1522) -- (965,1522);
\foreach \mname/\kx [count=\ki from 0] in {C>A/669,C>G/718,C>T/767,T>A/816,T>C/866,T>G/915}{
  \fill[sig\ki] (\kx,1478) rectangle (\kx+8,1498);
  \node (sigkey\ki) [inner sep=0pt,anchor=west,text=framedark,font=\fsz{2.8}{3}] at (\kx+16,1488) {\mname};
}
\end{scope}
\end{tikzpicture}
\end{document}
